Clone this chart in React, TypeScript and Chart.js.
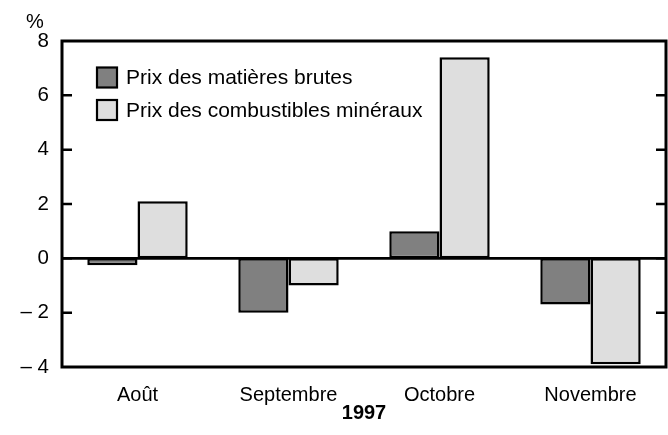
import React, { useEffect, useRef } from "react";
import { Chart, registerables } from "chart.js";

Chart.register(...registerables);

const categories = ["Août", "Septembre", "Octobre", "Novembre"];
const seriesNames = ["Prix des matières brutes", "Prix des combustibles minéraux"];
const rawMaterials = [-0.25, -2.0, 1.0, -1.7];
const mineralFuels = [2.1, -1.0, 7.4, -3.9];
const seriesColors = ["#808080", "#dedede"];
const yMin = -4;
const yMax = 8;
const yStep = 2;
const yUnit = "%";
const xTitle = "1997";

const FONT = "'Liberation Sans', Arial, Helvetica, sans-serif";

const framePlugin = {
  id: "frame",
  afterDatasetsDraw(chart: any) {
    const { ctx, chartArea: a, scales } = chart;
    const y = scales.y;
    ctx.save();
    ctx.strokeStyle = "#000";
    // zero line
    ctx.lineWidth = 2.7;
    const y0 = y.getPixelForValue(0);
    ctx.beginPath();
    ctx.moveTo(a.left, y0);
    ctx.lineTo(a.right, y0);
    ctx.stroke();
    // inward ticks
    ctx.lineWidth = 2.5;
    y.ticks.forEach((t: any) => {
      if (t.value <= yMin || t.value >= yMax) return;
      const py = y.getPixelForValue(t.value);
      ctx.beginPath();
      ctx.moveTo(a.left, py);
      ctx.lineTo(a.left + 10, py);
      ctx.moveTo(a.right, py);
      ctx.lineTo(a.right - 10, py);
      ctx.stroke();
    });
    // frame
    ctx.lineWidth = 3;
    ctx.strokeRect(a.left, a.top, a.right - a.left, a.bottom - a.top);
    // unit label
    ctx.fillStyle = "#000";
    ctx.font = `20px ${FONT}`;
    ctx.textAlign = "center";
    ctx.textBaseline = "middle";
    ctx.fillText(yUnit, 35, 22);
    // legend
    ctx.textAlign = "left";
    ctx.font = `21px ${FONT}`;
    chart.data.datasets.forEach((ds: any, i: number) => {
      const bx = a.left + 35;
      const cy = a.top + 36.5 + i * 32.5;
      ctx.fillStyle = ds.backgroundColor;
      ctx.fillRect(bx, cy - 10, 20, 20);
      ctx.lineWidth = 2.2;
      ctx.strokeStyle = "#000";
      ctx.strokeRect(bx, cy - 10, 20, 20);
      ctx.fillStyle = "#000";
      ctx.fillText(ds.label, bx + 29, cy + 1);
    });
    ctx.restore();
  },
};

export default function App() {
  const ref = useRef<HTMLCanvasElement | null>(null);
  useEffect(() => {
    if (!ref.current) return;
    Chart.defaults.font.family = FONT;
    Chart.defaults.font.size = 20;
    Chart.defaults.color = "#000";
    const chart = new Chart(ref.current, {
      type: "bar",
      data: {
        labels: categories,
        datasets: [
          {
            label: seriesNames[0],
            data: rawMaterials,
            backgroundColor: seriesColors[0],
            borderColor: "#000",
            borderWidth: 2.5,
            borderSkipped: false,
          },
          {
            label: seriesNames[1],
            data: mineralFuels,
            backgroundColor: seriesColors[1],
            borderColor: "#000",
            borderWidth: 2.5,
            borderSkipped: false,
          },
        ],
      },
      options: {
        animation: false,
        responsive: false,
        maintainAspectRatio: false,
        layout: { padding: { top: 41, right: 2, left: 0, bottom: 0 } },
        datasets: { bar: { categoryPercentage: 0.665, barPercentage: 1 } },
        plugins: { legend: { display: false }, tooltip: { enabled: false } },
        scales: {
          x: {
            grid: { display: false, drawTicks: false },
            border: { display: false },
            ticks: { padding: 16, font: { size: 20 } },
            title: {
              display: true,
              text: xTitle,
              font: { size: 20, weight: "bold" },
              padding: { top: 0, bottom: 10 },
            },
            afterFit(scale: any) {
              scale.height = 68;
            },
          },
          y: {
            min: yMin,
            max: yMax,
            grid: { display: false, drawTicks: false },
            border: { display: false },
            ticks: {
              stepSize: yStep,
              padding: 13,
              font: { size: 20.5 },
              callback: (v: any) => (v < 0 ? "\u2013 " + Math.abs(v) : String(v)),
            },
            afterFit(scale: any) {
              scale.width = 62;
            },
          },
        },
      },
      plugins: [framePlugin],
    });
    return () => chart.destroy();
  }, []);
  return (
    <div style={{ position: "fixed", left: 0, top: 0, width: 668, height: 435, background: "#fff" }}>
      <canvas ref={ref} width={668} height={435} style={{ width: 668, height: 435 }} />
    </div>
  );
}
